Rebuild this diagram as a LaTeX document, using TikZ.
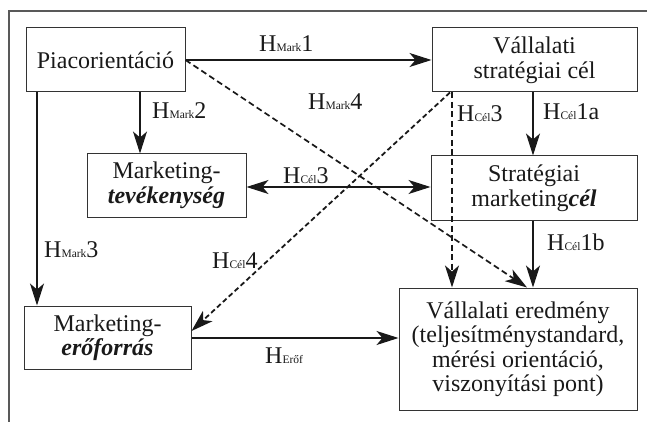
\documentclass[tikz,border=0pt]{standalone}
\usepackage{fontspec}
\setmainfont{Liberation Serif}
\usetikzlibrary{arrows.meta}

% hypothesis label: large H, small index on the baseline, then the number
\newcommand\hyplabel[2]{H{\fontsize{11.5}{11.5}\selectfont #1}#2}

\begin{document}
\begin{tikzpicture}[x=1pt,y=-1pt,
  >={Stealth[length=22pt,width=14pt,inset=6pt]},
  box/.style={draw=black!80, line width=1pt, inner sep=0pt, align=center,
    text=black!90, font=\fontsize{24}{24.5}\selectfont},
  link/.style={line width=1.1pt, draw=black!90, ->},
  dlink/.style={link, line width=1.7pt, dash pattern=on 6pt off 3.5pt},
  lab/.style={anchor=base west, inner sep=0pt, text=black!90,
    font=\fontsize{24}{24}\selectfont}]

\useasboundingbox (0,0) rectangle (647,422);

% outer frame (top and left edges)
\draw[black!65, line width=1.5pt] (9,422) -- (9,11) -- (647,11);

% boxes
\node[box, minimum width=159, minimum height=64] (piac) at (105.5,60) {Piacorientáció};
\node[box, minimum width=205, minimum height=64] (vsc) at (534.5,60) {Vállalati\\stratégiai cél};
\node[box, minimum width=159, minimum height=63] (mt) at (166.5,185.5) {Marketing-\\\textbf{\textit{tevékenység}}};
\node[box, minimum width=206, minimum height=64] (smc) at (534,188) {Stratégiai\\marketing\textbf{\textit{cél}}};
\node[box, minimum width=167, minimum height=63] (me) at (107.5,337.5) {Marketing-\\\textbf{\textit{erőforrás}}};
\node[box, minimum width=238, minimum height=122] (ve) at (518,349)
  {Vállalati eredmény\\(teljesítménystandard,\\mérési orientáció,\\viszonyítási pont)};

% solid connectors
\draw[link] (piac.east) -- (vsc.west);
\draw[link] (piac.south -| 140,0) -- (mt.north -| 140,0);
\draw[link] (piac.south -| 37,0) -- (me.north -| 37,0);
\draw[link, <->] (mt.east |- 0,187) -- (smc.west |- 0,187);
\draw[link] (vsc.south -| 533,0) -- (smc.north -| 533,0);
\draw[link] (smc.south -| 533,0) -- (ve.north -| 533,0);
\draw[link] (me.east |- 0,338) -- (ve.west |- 0,338);

% dashed connectors
\draw[dlink] (piac.east) -- (ve.north -| 527,0);
\draw[dlink] (vsc.south -| 452,0) -- (ve.north -| 452,0);
\draw[dlink, line width=1.8pt, dash pattern=on 5pt off 3pt] (vsc.south -| 450,0) -- (me.east |- 0,331);

% hypothesis labels
\node[lab] (hm1) at (259,52) {\hyplabel{Mark}{1}};
\node[lab] (hm2) at (152,119) {\hyplabel{Mark}{2}};
\node[lab] (hm3) at (44,257) {\hyplabel{Mark}{3}};
\node[lab] (hm4) at (308,110) {\hyplabel{Mark}{4}};
\node[lab] (hc3a) at (283,183) {\hyplabel{Cél}{3}};
\node[lab] (hc3b) at (457,122) {\hyplabel{Cél}{3}};
\node[lab] (hc1a) at (543,120) {\hyplabel{Cél}{1a}};
\node[lab] (hc1b) at (547,250) {\hyplabel{Cél}{1b}};
\node[lab] (hc4) at (212,268) {\hyplabel{Cél}{4}};
\node[lab] (he) at (265,363) {\hyplabel{Erőf}{}};
\end{tikzpicture}
\end{document}
